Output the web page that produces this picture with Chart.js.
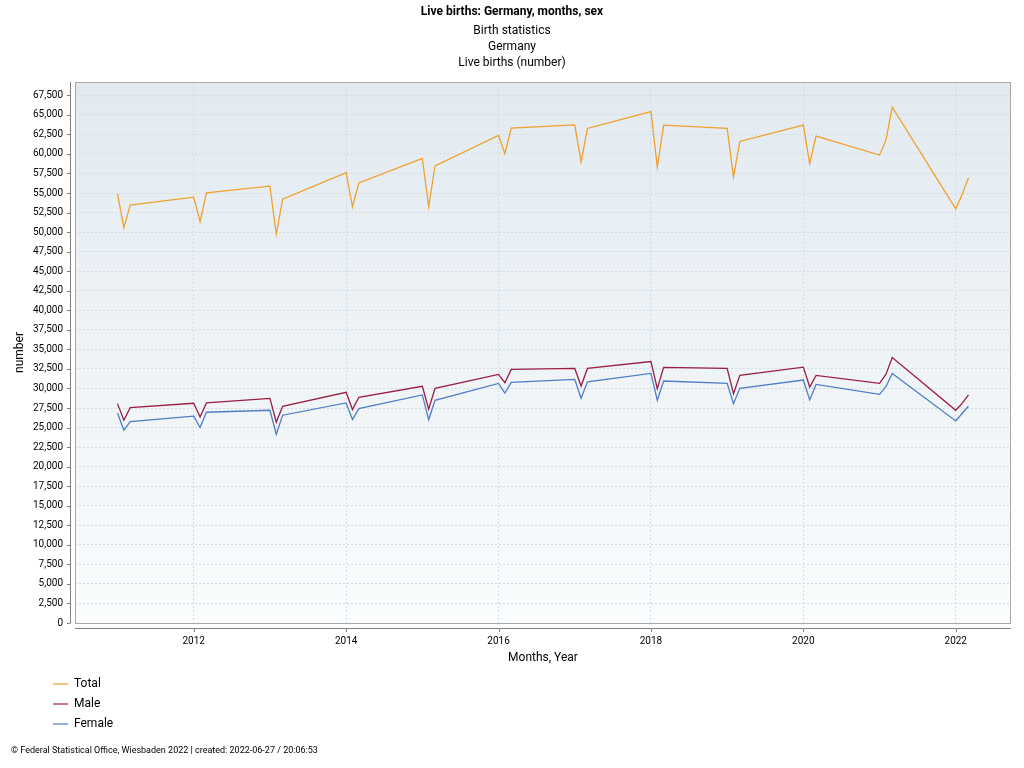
<!DOCTYPE html>
<html>
<head>
<meta charset="utf-8">
<title>Live births: Germany, months, sex</title>
<script src="https://cdn.jsdelivr.net/npm/chart.js@4.4.1/dist/chart.umd.min.js"></script>
<style>
  html, body { margin: 0; padding: 0; background: #fff; }
  #chart { display: block; }
</style>
</head>
<body>
<canvas id="chart" width="1024" height="768"></canvas>
<script>
// months shown in the table (Jan-Mar of each year)
const periods = [
  '2011-01', '2011-02', '2011-03', '2012-01', '2012-02', '2012-03',
  '2013-01', '2013-02', '2013-03', '2014-01', '2014-02', '2014-03',
  '2015-01', '2015-02', '2015-03', '2016-01', '2016-02', '2016-03',
  '2017-01', '2017-02', '2017-03', '2018-01', '2018-02', '2018-03',
  '2019-01', '2019-02', '2019-03', '2020-01', '2020-02', '2020-03',
  '2021-01', '2021-02', '2021-03', '2022-01', '2022-02', '2022-03'
];

const total = [
  54900, 50560, 53450, 54470, 51330, 55020,
  55870, 49710, 54220, 57610, 53240, 56290,
  59440, 53240, 58460, 62370, 60030, 63300,
  63720, 58970, 63260, 65420, 58330, 63680,
  63260, 57060, 61600, 63680, 58750, 62280,
  59860, 61730, 65970, 52980, 54800, 56930
];

const male = [
  28060, 25940, 27550, 28110, 26360, 28150,
  28740, 25690, 27720, 29510, 27300, 28870,
  30270, 27340, 30020, 31800, 30740, 32430,
  32560, 30310, 32560, 33450, 29970, 32690,
  32560, 29330, 31670, 32730, 30180, 31670,
  30650, 31800, 33960, 27210, 28100, 29170
];

const female = [
  26870, 24670, 25770, 26450, 25000, 26960,
  27210, 24160, 26580, 28150, 26020, 27420,
  29170, 26020, 28490, 30650, 29420, 30780,
  31160, 28740, 30860, 31930, 28490, 30950,
  30650, 28060, 30020, 31080, 28530, 30520,
  29250, 30230, 31930, 25850, 26800, 27720
];

const yearTicks = [2012, 2014, 2016, 2018, 2020, 2022];

const numberTicks = [
  0, 2500, 5000, 7500, 10000, 12500, 15000, 17500, 20000, 22500,
  25000, 27500, 30000, 32500, 35000, 37500, 40000, 42500, 45000, 47500,
  50000, 52500, 55000, 57500, 60000, 62500, 65000, 67500
];

const FONT = 'Roboto, "Liberation Sans", Arial, sans-serif';

// '2011-02' -> 2011.0833
function toYear(p) {
  const parts = p.split('-');
  return Number(parts[0]) + (Number(parts[1]) - 1) / 12;
}

function series(values) {
  return periods.map((p, i) => ({ x: toYear(p), y: values[i] }));
}

const frame = {
  id: 'frame',
  beforeDraw(chart) {
    const { ctx, chartArea: a } = chart;
    const g = ctx.createLinearGradient(0, a.top, 0, a.bottom);
    g.addColorStop(0, '#e2eaf0');
    g.addColorStop(1, '#fafcfd');
    ctx.save();
    ctx.fillStyle = g;
    ctx.fillRect(a.left, a.top, a.right - a.left, a.bottom - a.top);
    ctx.restore();
  },
  afterDraw(chart) {
    const { ctx, chartArea: a, scales } = chart;
    ctx.save();
    // plot outline
    ctx.strokeStyle = '#a9a9a9';
    ctx.lineWidth = 1;
    ctx.strokeRect(a.left + 0.5, a.top + 0.5, a.right - a.left - 1, a.bottom - a.top);

    // axis lines, set off from the plot
    ctx.strokeStyle = '#7f7f7f';
    ctx.beginPath();
    ctx.moveTo(a.left - 4.5, a.top);
    ctx.lineTo(a.left - 4.5, a.bottom);
    ctx.moveTo(a.left, a.bottom + 5.5);
    ctx.lineTo(a.right, a.bottom + 5.5);
    scales.y.ticks.forEach(t => {
      const y = Math.round(scales.y.getPixelForValue(t.value)) + 0.5;
      ctx.moveTo(a.left - 8, y);
      ctx.lineTo(a.left - 4.5, y);
    });
    scales.x.ticks.forEach(t => {
      const x = Math.round(scales.x.getPixelForValue(t.value)) + 0.5;
      ctx.moveTo(x, a.bottom + 5.5);
      ctx.lineTo(x, a.bottom + 9);
    });
    ctx.stroke();

    // legend
    ctx.font = '12px ' + FONT;
    ctx.textBaseline = 'middle';
    ctx.fillStyle = '#000';
    ctx.lineWidth = 1.2;
    chart.data.datasets.forEach((ds, i) => {
      const y = 684 + i * 20;
      ctx.strokeStyle = ds.borderColor;
      ctx.beginPath();
      ctx.moveTo(53, y);
      ctx.lineTo(68, y);
      ctx.stroke();
      ctx.fillText(ds.label, 74, y);
    });

    // source line
    ctx.font = '9px ' + FONT;
    ctx.fillText('\u00a9 Federal Statistical Office, Wiesbaden 2022 | created: 2022-06-27 / 20:06:53', 11, 751);
    ctx.restore();
  }
};

new Chart(document.getElementById('chart'), {
  type: 'line',
  data: {
    datasets: [{
      label: 'Total',
      data: series(total),
      borderColor: '#f0a02c',
      borderWidth: 1.3
    }, {
      label: 'Male',
      data: series(male),
      borderColor: '#9b1d40',
      borderWidth: 1.3
    }, {
      label: 'Female',
      data: series(female),
      borderColor: '#4f7dc6',
      borderWidth: 1.3
    }]
  },
  options: {
    responsive: false,
    animation: false,
    devicePixelRatio: 1,
    elements: {
      point: { radius: 0, hoverRadius: 0 },
      line: { tension: 0 }
    },
    layout: {
      padding: { left: 0, right: 0, top: 0, bottom: 100 }
    },
    plugins: {
      legend: { display: false },
      tooltip: { enabled: false },
      title: {
        display: true,
        text: 'Live births: Germany, months, sex',
        color: '#000',
        font: { family: FONT, size: 12, weight: 'bold', lineHeight: 1.2 },
        padding: { top: 5, bottom: 4 }
      },
      subtitle: {
        display: true,
        text: ['Birth statistics', 'Germany', 'Live births (number)'],
        color: '#000',
        font: { family: FONT, size: 12, lineHeight: 1.3333 },
        padding: { top: 0, bottom: 10.6 }
      }
    },
    scales: {
      x: {
        type: 'linear',
        min: 2010.442,
        max: 2022.725,
        afterBuildTicks(scale) {
          scale.ticks = yearTicks.map(v => ({ value: v }));
        },
        afterFit(scale) {
          scale.height = 45;
        },
        ticks: {
          color: '#000',
          padding: 12,
          maxRotation: 0,
          font: { family: FONT, size: 10 },
          callback: v => String(v)
        },
        grid: {
          color: '#d3dbe3',
          drawTicks: false
        },
        border: { display: false, dash: [2, 2] },
        title: {
          display: true,
          text: 'Months, Year',
          color: '#000',
          font: { family: FONT, size: 12, lineHeight: 1.2 },
          padding: { top: 0, bottom: 3 }
        }
      },
      y: {
        min: 0,
        max: 69200,
        afterBuildTicks(scale) {
          scale.ticks = numberTicks.map(v => ({ value: v }));
        },
        afterFit(scale) {
          scale.width = 75;
        },
        ticks: {
          autoSkip: false,
          color: '#000',
          padding: 12,
          font: { family: FONT, size: 10 },
          callback: v => v.toLocaleString('en-US')
        },
        grid: {
          color: '#d3dbe3',
          drawTicks: false
        },
        border: { display: false, dash: [2, 2] },
        title: {
          display: true,
          text: 'number',
          color: '#000',
          font: { family: FONT, size: 12, lineHeight: 1.2 },
          padding: { top: 13, bottom: 0 }
        }
      },
      // empty strip on the right so the titles stay centred on the page
      gap: {
        type: 'linear',
        position: 'right',
        ticks: { display: false },
        grid: { display: false, drawTicks: false },
        border: { display: false },
        afterFit(scale) {
          scale.width = 13;
        }
      }
    }
  },
  plugins: [frame]
});
</script>
</body>
</html>
